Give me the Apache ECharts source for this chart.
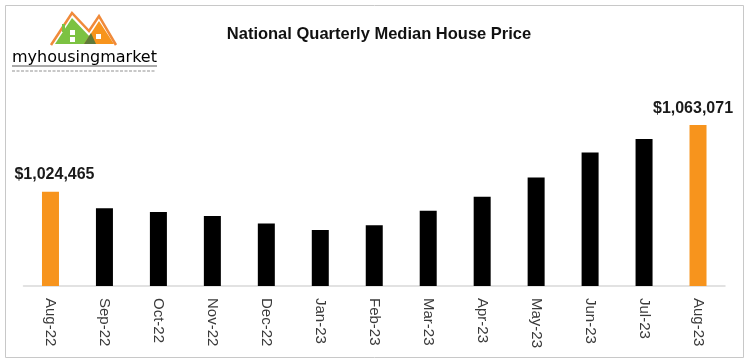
<!DOCTYPE html>
<html>
<head>
<meta charset="utf-8">
<script src="https://cdn.jsdelivr.net/npm/echarts@6/dist/echarts.min.js"></script>
<style>
html,body{margin:0;padding:0;background:#fff;}
#chart{width:750px;height:364px;}
</style>
</head>
<body>
<div id="chart"></div>
<script>
const categories = ['Aug-22','Sep-22','Oct-22','Nov-22','Dec-22','Jan-23','Feb-23','Mar-23','Apr-23','May-23','Jun-23','Jul-23','Aug-23'];
const prices = [1024465, 1015000, 1012800, 1010500, 1006100, 1002400, 1005100, 1013600, 1021700, 1032700, 1047200, 1055100, 1063071];
const highlighted = [0, 12];
const titleText = 'National Quarterly Median House Price';

const ORANGE = '#f7941d';
const fmt = v => '$' + v.toLocaleString('en-US');

const seriesData = prices.map((v, i) => {
  const hi = highlighted.includes(i);
  return {
    value: v,
    itemStyle: { color: hi ? ORANGE : '#000000' },
    label: {
      show: hi,
      position: 'top',
      distance: 9,
      offset: [i === 0 ? 4 : -5, 0],
      formatter: p => fmt(p.value),
      fontFamily: 'Liberation Sans',
      fontWeight: 'bold',
      fontSize: 16,
      color: '#1a1a1a'
    }
  };
});

const chart = echarts.init(document.getElementById('chart'), null, { renderer: 'canvas' });
chart.setOption({
  animation: false,
  backgroundColor: '#ffffff',
  title: {
    text: titleText,
    left: 374, top: 21, textAlign: 'center',
    textStyle: { fontFamily: 'Liberation Sans', fontWeight: 'bold', fontSize: 16.5, color: '#111' }
  },
  grid: { left: 23.5, right: 25, top: 44, bottom: 78 },
  xAxis: {
    type: 'category',
    data: categories,
    axisLine: { lineStyle: { color: '#d9d9d9', width: 1.5 } },
    axisTick: { show: false },
    axisLabel: { rotate: -90, margin: 12, fontFamily: 'Liberation Sans', fontSize: 15, color: '#3a3a3a' }
  },
  yAxis: {
    type: 'value', min: 970000, max: 1110000,
    show: false, splitLine: { show: false }
  },
  series: [{
    type: 'bar',
    barWidth: 17,
    data: seriesData
  }],
  graphic: [
    { type: 'rect', shape: { x: 5.5, y: 5.5, width: 738, height: 352 }, style: { fill: 'none', stroke: '#c8c8c8', lineWidth: 1 }, z: -1 },
    { type: 'polygon', shape: { points: [[55,44],[72,18],[91,38],[91,44]] }, style: { fill: '#7cc242' } },
    { type: 'polygon', shape: { points: [[84,44],[99,21],[114,44]] }, style: { fill: '#f7941d' } },
    { type: 'polygon', shape: { points: [[84,44],[91,33],[96,44]] }, style: { fill: '#5f7a3a' } },
    { type: 'polyline', shape: { points: [[51,45],[72,13],[89,31],[99,16],[116,45]] }, style: { stroke: '#f08a3a', lineWidth: 2.5, fill: 'none' } },
    { type: 'rect', shape: { x: 62, y: 24, width: 3, height: 8 }, style: { fill: '#7cc242' } },
    { type: 'rect', shape: { x: 70, y: 30, width: 5, height: 5 }, style: { fill: '#ffffff' } },
    { type: 'rect', shape: { x: 70, y: 37, width: 5, height: 5 }, style: { fill: '#ffffff' } },
    { type: 'rect', shape: { x: 96, y: 34, width: 5, height: 5 }, style: { fill: '#ffffff' } },
    {
      type: 'text', left: 12, top: 50,
      style: {
        text: '{a|my}{b|housing}{a|market}',
        rich: {
          a: { fontFamily: 'DejaVu Sans', fontSize: 16, color: '#3a3a3a' },
          b: { fontFamily: 'DejaVu Sans', fontSize: 16, color: '#8dc63f' }
        }
      }
    },
    { type: 'line', shape: { x1: 12, y1: 66, x2: 157, y2: 66 }, style: { stroke: '#555', lineWidth: 1 } },
    { type: 'line', shape: { x1: 12, y1: 71, x2: 155, y2: 71 }, style: { stroke: '#c8c8c8', lineWidth: 2, lineDash: [3, 1.5] } }
  ]
});
</script>
</body>
</html>
